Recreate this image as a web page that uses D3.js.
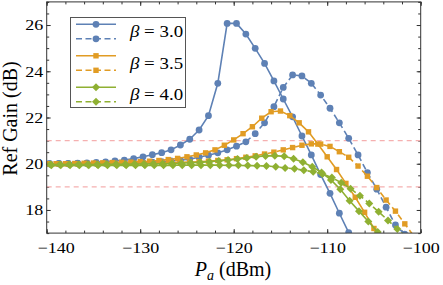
<!DOCTYPE html>
<html lang="en">
<head>
  <meta charset="UTF-8" />
  <script src="https://d3js.org/d3.v7.min.js"></script>
  <title>Ref Gain vs Pa</title>
  <style>
    body { margin: 0; background: #fff; }
    text { font-family: "Liberation Serif", "DejaVu Serif", serif; }
  </style>
</head>
<body>
  <svg width="443" height="285"></svg>

  <script>
    // readings, one point per 1 dBm
    const gainB30Solid = [20.0, 20.01, 20.02, 20.03, 20.04, 20.06, 20.08, 20.12, 20.16, 20.22,
      20.3, 20.39, 20.48, 20.6, 20.81, 21.06, 21.46, 22.08, 23.48, 26.07,
      26.07, 25.61, 24.99, 24.34, 23.58, 22.8, 22.03, 21.2, 20.38, 19.53,
      18.72, 17.86, 17.02, 16.2];
    const gainB30Dashed = [20.0, 20.0, 20.0, 20.01, 20.01, 20.02, 20.02, 20.03, 20.03, 20.04,
      20.05, 20.07, 20.09, 20.12, 20.16, 20.2, 20.28, 20.37, 20.47, 20.6,
      20.76, 20.95, 21.3, 21.77, 22.47, 23.3, 23.84, 23.8, 23.48, 22.97,
      22.4, 21.77, 21.1, 20.38, 19.62, 18.9, 18.12, 17.35, 16.95];
    const gainB35Solid = [20.0, 20.0, 20.0, 20.01, 20.02, 20.03, 20.04, 20.05, 20.06, 20.07,
      20.09, 20.11, 20.14, 20.18, 20.23, 20.3, 20.38, 20.47, 20.6, 20.8,
      21.03, 21.3, 21.6, 21.97, 22.25, 22.28, 22.08, 21.77, 21.38, 20.85,
      20.3, 19.75, 19.15, 18.55, 17.9, 17.2, 16.5];
    const gainB35Dashed = [20.0, 20.0, 20.0, 20.0, 20.01, 20.01, 20.01, 20.02, 20.02, 20.02,
      20.03, 20.03, 20.04, 20.05, 20.06, 20.07, 20.09, 20.11, 20.14, 20.17,
      20.22, 20.28, 20.34, 20.42, 20.5, 20.6, 20.7, 20.8, 20.86, 20.85,
      20.75, 20.52, 20.28, 19.9, 19.46, 18.97, 18.43, 17.95, 17.4, 16.85];
    const gainB40Solid = [19.97, 19.97, 19.97, 19.97, 19.97, 19.97, 19.98, 19.98, 19.98, 19.99,
      19.99, 20.0, 20.0, 20.01, 20.02, 20.04, 20.06, 20.09, 20.12, 20.16,
      20.2, 20.25, 20.3, 20.34, 20.35, 20.32, 20.22, 20.06, 19.87, 19.62,
      19.3, 18.9, 18.4, 17.95, 17.5, 17.05, 16.6];
    const gainB40Dashed = [19.93, 19.93, 19.93, 19.93, 19.93, 19.93, 19.93, 19.93, 19.93, 19.93,
      19.93, 19.93, 19.93, 19.93, 19.94, 19.94, 19.94, 19.94, 19.94, 19.93,
      19.93, 19.92, 19.91, 19.9, 19.87, 19.82, 19.78, 19.72, 19.65, 19.56,
      19.4, 19.18, 18.92, 18.62, 18.28, 17.92, 17.55, 17.18, 16.8];

    // first Pa (dBm) of each series
    const paStarts = [-139.7, -139.7, -140, -139.7, -139.6, -139.5];
    const betaLabels = ["3.0", "3.5", "4.0"];
    const refLines = [21, 19];
    const xTicks = [-140, -130, -120, -110, -100];
    const yTicks = [18, 20, 22, 24, 26];

    const colors = ["#5e81b5", "#e19c24", "#8fb032"];
    const shapes = ["circle", "square", "diamond"];

    const series = [gainB30Solid, gainB30Dashed, gainB35Solid, gainB35Dashed, gainB40Solid, gainB40Dashed]
      .map((vals, i) => ({
        group: Math.floor(i / 2),
        dashed: i % 2 === 1,
        pts: vals.map((v, j) => [paStarts[i] + j, v])
      }));

    const pLeft = 46.7, pRight = 420.7, pTop = 1.9, pBottom = 233.1;
    const x = d3.scaleLinear().domain([-140, -100]).range([pLeft, pRight]);
    const y = d3.scaleLinear().domain([17, 27]).range([pBottom, pTop]);

    const svg = d3.select("svg");

    // the reference text is a little wider than plain Times
    function widen(sel, f) {
      sel.each(function () {
        const w = this.getComputedTextLength();
        d3.select(this).attr("textLength", w * f).attr("lengthAdjust", "spacingAndGlyphs");
      });
    }

    svg.append("clipPath").attr("id", "plot")
      .append("rect")
      .attr("x", pLeft).attr("y", pTop)
      .attr("width", pRight - pLeft).attr("height", pBottom - pTop);

    // frame ticks, pointing inward on every side
    function addAxis(axis, tr) {
      const g = svg.append("g").attr("transform", tr).call(axis);
      g.select(".domain").remove();
      g.selectAll("line").attr("stroke", "#333");
      g.selectAll("text").attr("font-size", 15).attr("fill", "#000");
      return g;
    }
    const xMinor = d3.range(-140, -99, 2);
    const yMinor = d3.range(17, 27.01, 0.5);

    const xAx = addAxis(d3.axisBottom(x).tickValues(xTicks).tickSize(-4).tickPadding(8), `translate(0,${pBottom})`);
    xAx.selectAll("text").attr("dy", "0.8em");
    xAx.selectAll(".tick").filter(d => d === -140).select("text").attr("dx", 9);
    widen(xAx.selectAll("text"), 1.2);
    addAxis(d3.axisBottom(x).tickValues(xMinor).tickSize(-2.5).tickFormat(""), `translate(0,${pBottom})`);
    addAxis(d3.axisTop(x).tickValues(xTicks).tickSize(-4).tickFormat(""), `translate(0,${pTop})`);
    addAxis(d3.axisTop(x).tickValues(xMinor).tickSize(-2.5).tickFormat(""), `translate(0,${pTop})`);

    const yAx = addAxis(d3.axisLeft(y).tickValues(yTicks).tickSize(-4).tickPadding(3.5), `translate(${pLeft},0)`);
    widen(yAx.selectAll("text"), 1.2);
    addAxis(d3.axisLeft(y).tickValues(yMinor).tickSize(-2.5).tickFormat(""), `translate(${pLeft},0)`);
    addAxis(d3.axisRight(y).tickValues(yTicks).tickSize(-4).tickFormat(""), `translate(${pRight},0)`);
    addAxis(d3.axisRight(y).tickValues(yMinor).tickSize(-2.5).tickFormat(""), `translate(${pRight},0)`);

    const plot = svg.append("g").attr("clip-path", "url(#plot)");

    plot.selectAll(".ref")
      .data(refLines)
      .enter()
      .append("line")
      .attr("x1", pLeft).attr("x2", pRight)
      .attr("y1", d => y(d)).attr("y2", d => y(d))
      .attr("stroke", "#f5b0b0")
      .attr("stroke-width", 1.2)
      .attr("stroke-dasharray", "5,4");

    const line = d3.line().x(d => x(d[0])).y(d => y(d[1]));

    function marker(g, shape, color) {
      if (shape === "circle") {
        g.append("circle").attr("r", 3.4).attr("fill", color);
      } else if (shape === "square") {
        g.append("rect").attr("x", -2.7).attr("y", -2.7).attr("width", 5.4).attr("height", 5.4).attr("fill", color);
      } else {
        g.append("path").attr("d", "M0,-4L4,0L0,4L-4,0Z").attr("fill", color);
      }
    }

    series.forEach(s => {
      const color = colors[s.group];
      plot.append("path")
        .datum(s.pts)
        .attr("d", line)
        .attr("fill", "none")
        .attr("stroke", color)
        .attr("stroke-width", 1.6)
        .attr("stroke-dasharray", s.dashed ? "6,3.5" : null);

      plot.selectAll(null)
        .data(s.pts)
        .enter()
        .append("g")
        .attr("transform", d => `translate(${x(d[0])},${y(d[1])})`)
        .each(function () { marker(d3.select(this), shapes[s.group], color); });
    });

    svg.append("rect")
      .attr("x", pLeft).attr("y", pTop)
      .attr("width", pRight - pLeft).attr("height", pBottom - pTop)
      .attr("fill", "none").attr("stroke", "#333").attr("stroke-width", 1);

    // legend
    const legend = svg.append("g");
    legend.append("rect")
      .attr("x", 70.5).attr("y", 17.5)
      .attr("width", 115).attr("height", 90)
      .attr("fill", "#fff").attr("stroke", "#555").attr("stroke-width", 1);

    betaLabels.forEach((lab, i) => {
      const y0 = 24.3 + i * 31.5;
      const color = colors[i];
      [0, 1].forEach(k => {
        const yy = y0 + k * 14.5;
        legend.append("line")
          .attr("x1", 76).attr("x2", 116)
          .attr("y1", yy).attr("y2", yy)
          .attr("stroke", color).attr("stroke-width", 1.6)
          .attr("stroke-dasharray", k ? "6,3.5" : null);
        const m = legend.append("g").attr("transform", `translate(96,${yy})`);
        marker(m, shapes[i], color);
      });
      const t = legend.append("text")
        .attr("x", 130).attr("y", y0 + 13)
        .attr("font-size", 16);
      t.append("tspan").attr("font-style", "italic").text("β");
      t.append("tspan").text(" = " + lab);
      widen(t, 1.18);
    });

    // axis titles
    svg.append("text")
      .attr("transform", `translate(17,${(pTop + pBottom) / 2 + 1}) rotate(-90)`)
      .attr("text-anchor", "middle")
      .attr("font-size", 20)
      .text("Ref Gain (dB)");

    const xt = svg.append("text")
      .attr("x", 233).attr("y", 276)
      .attr("text-anchor", "middle")
      .attr("font-size", 20);
    xt.append("tspan").attr("font-style", "italic").text("P");
    xt.append("tspan").attr("font-style", "italic").attr("font-size", 14).attr("dy", 4).text("a");
    xt.append("tspan").attr("dy", -4).text(" (dBm)");
  </script>
</body>
</html>
